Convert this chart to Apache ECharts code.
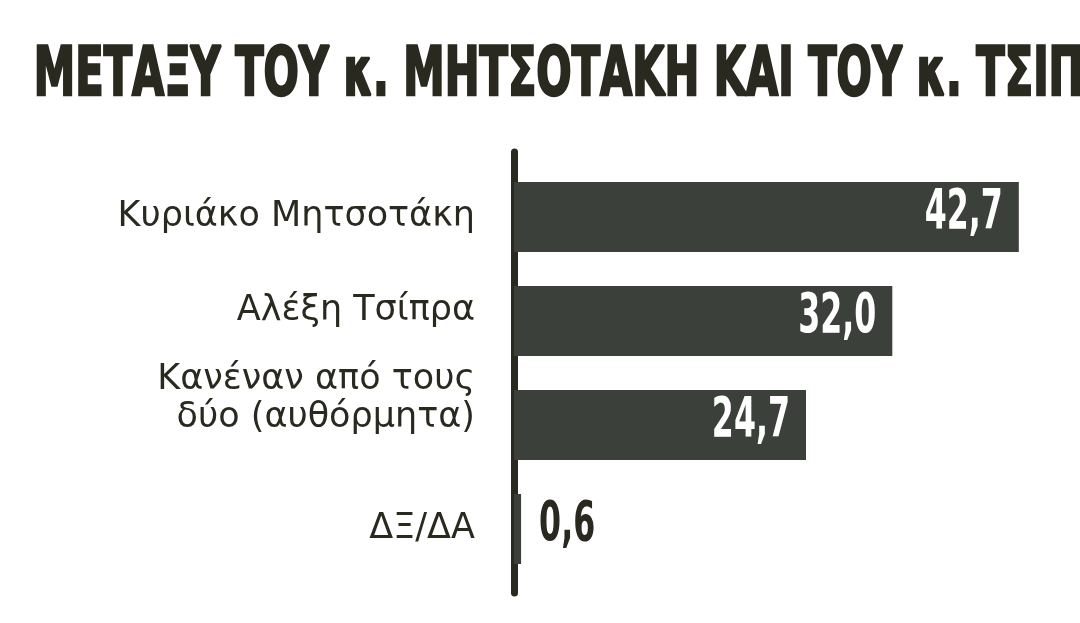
<!DOCTYPE html>
<html>
<head>
<meta charset="utf-8">
<script src="https://cdn.jsdelivr.net/npm/echarts@6/dist/echarts.min.js"></script>
<style>html,body{margin:0;padding:0;background:#ffffff;}#chart{width:1080px;height:623px;}</style>
</head>
<body>
<div id="chart"></div>
<script>
var titleText = 'ΜΕΤΑΞΥ ΤΟΥ κ. ΜΗΤΣΟΤΑΚΗ ΚΑΙ ΤΟΥ κ. ΤΣΙΠΡΑ';
var categories = ['Κυριάκο Μητσοτάκη', 'Αλέξη Τσίπρα', 'Κανέναν από τους\nδύο (αυθόρμητα)', 'ΔΞ/ΔΑ'];
var values = [42.7, 32.0, 24.7, 0.6];

var barColor = '#3b413a';
var inkColor = '#2a291f';
var valueFont = "bold 55px 'DejaVu Sans Condensed','DejaVu Sans',sans-serif";

var chart = echarts.init(document.getElementById('chart'));
var fmtVal = function (v) { return v.toFixed(1).replace('.', ','); };

// small upward nudges of some category labels (as in the original layout)
var gapStyle = ['', 'g1', 'g2', ''];

chart.setOption({
  backgroundColor: '#ffffff',
  animation: false,
  graphic: [{
    type: 'text',
    left: 33,
    top: 42,
    scaleX: 0.68,
    style: {
      text: titleText,
      fill: inkColor,
      stroke: inkColor,
      lineWidth: 2.5,
      font: "bold 68px 'DejaVu Sans Condensed','DejaVu Sans',sans-serif"
    }
  }],
  grid: [
    { left: 514, top: 165, width: 532, height: 416 },
    { left: 514, top: 152, width: 532, height: 441 }
  ],
  xAxis: [
    { gridIndex: 0, type: 'value', min: 0, max: 45, show: false },
    { gridIndex: 1, type: 'value', min: 0, max: 45, show: false }
  ],
  yAxis: [
    {
      gridIndex: 0,
      type: 'category',
      inverse: true,
      data: categories,
      axisLine: { show: false },
      axisTick: { show: false },
      axisLabel: {
        margin: 39,
        align: 'right',
        formatter: function (val, idx) {
          var lines = val.split('\n').map(function (l) { return '{s|' + l + '}'; });
          if (gapStyle[idx]) lines.push('{' + gapStyle[idx] + '| }');
          return lines.join('\n');
        },
        rich: {
          s: { fontFamily: "'DejaVu Sans',sans-serif", fontSize: 35, lineHeight: 38, color: inkColor, align: 'right' },
          g1: { fontSize: 2, lineHeight: 20, align: 'right' },
          g2: { fontSize: 2, lineHeight: 52, align: 'right' }
        }
      }
    },
    {
      gridIndex: 1,
      type: 'category',
      data: ['a'],
      axisLine: { show: true, lineStyle: { color: inkColor, width: 7 } },
      axisTick: { show: false },
      axisLabel: { show: false }
    }
  ],
  series: [{
    type: 'bar',
    xAxisIndex: 0,
    yAxisIndex: 0,
    data: values,
    barWidth: 70,
    itemStyle: { color: barColor },
    z: 2
  }, {
    type: 'custom',
    xAxisIndex: 0,
    yAxisIndex: 0,
    data: values.map(function (v, i) { return [v, i]; }),
    z: 5,
    renderItem: function (params, api) {
      var v = api.value(0);
      var pt = api.coord([v, api.value(1)]);
      var inside = v >= 5;
      return {
        type: 'text',
        x: inside ? pt[0] - 16 : pt[0] + 18,
        y: pt[1] - 3,
        scaleX: 0.64,
        style: {
          text: fmtVal(v),
          x: 0,
          y: 0,
          align: inside ? 'right' : 'left',
          verticalAlign: 'middle',
          fill: inside ? '#ffffff' : inkColor,
          font: valueFont
        }
      };
    }
  }]
});
</script>
</body>
</html>
